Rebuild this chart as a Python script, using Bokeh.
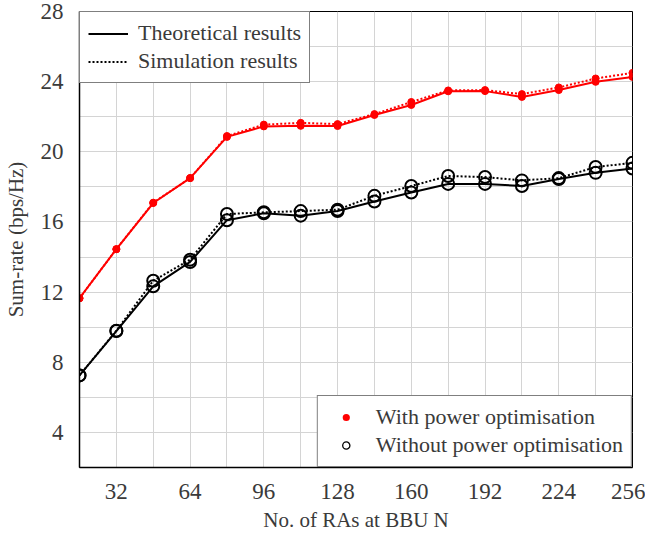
from bokeh.plotting import figure
from bokeh.models import FixedTicker, Legend, LegendItem, ColumnDataSource
from bokeh.embed import file_html
from bokeh.resources import INLINE

N = [16, 32, 48, 64, 80, 96, 112, 128, 144, 160, 176, 192, 208, 224, 240, 256]
with_opt_theory = [11.65, 14.45, 17.08, 18.5, 20.85, 21.45, 21.48, 21.47, 22.1, 22.67, 23.45, 23.46, 23.13, 23.52, 23.99, 24.27]
with_opt_sim = [11.65, 14.45, 17.1, 18.5, 20.9, 21.55, 21.65, 21.58, 22.15, 22.84, 23.5, 23.52, 23.29, 23.67, 24.18, 24.5]
without_opt_theory = [7.25, 9.78, 12.33, 13.72, 16.1, 16.5, 16.36, 16.62, 17.17, 17.68, 18.17, 18.17, 18.05, 18.45, 18.8, 19.05]
without_opt_sim = [7.25, 9.8, 12.65, 13.85, 16.45, 16.55, 16.62, 16.7, 17.49, 18.05, 18.62, 18.56, 18.37, 18.5, 19.13, 19.37]

x_ticks = [32, 64, 96, 128, 160, 192, 224, 256]
x_minor = [16, 48, 80, 112, 144, 176, 208, 240]
y_ticks = [4, 8, 12, 16, 20, 24, 28]
y_minor = [2, 6, 10, 14, 18, 22, 26]

FONT = "'Liberation Serif', 'DejaVu Serif', serif"
TXT = "#3a3a3a"
DOT = "2 2"

p = figure(width=645, height=534, output_backend="svg", toolbar_location=None,
           x_range=(16, 256), y_range=(2, 28),
           min_border_left=76, min_border_right=13, min_border_top=11, min_border_bottom=66)
p.background_fill_color = "white"
p.outline_line_color = "black"
p.outline_line_width = 1

for ax, ticks, minor in ((p.xaxis[0], x_ticks, x_minor), (p.yaxis[0], y_ticks, y_minor)):
    ax.ticker = FixedTicker(ticks=ticks, minor_ticks=minor)
    ax.major_tick_line_color = None
    ax.minor_tick_line_color = None
    ax.axis_line_color = "black"
    ax.axis_line_width = 1.5
    ax.major_label_text_font = FONT
    ax.major_label_text_font_size = "23px"
    ax.major_label_text_color = TXT
    ax.major_label_standoff = 10
    ax.axis_label_text_font = FONT
    ax.axis_label_text_font_size = "21px"
    ax.axis_label_text_font_style = "normal"
    ax.axis_label_text_color = TXT

p.xaxis.axis_label = "No. of RAs at BBU N"
p.yaxis.axis_label = "Sum-rate (bps/Hz)"
p.xaxis.axis_label_standoff = 6
p.yaxis.axis_label_standoff = 10

p.xgrid.ticker = FixedTicker(ticks=x_ticks, minor_ticks=x_minor)
p.ygrid.ticker = FixedTicker(ticks=y_ticks, minor_ticks=y_minor)
for g in (p.xgrid[0], p.ygrid[0]):
    g.grid_line_color = "#d4d4d4"
    g.grid_line_width = 1
    g.minor_grid_line_color = "#d4d4d4"
    g.minor_grid_line_width = 1

src = ColumnDataSource(dict(N=N, wt=with_opt_theory, ws=with_opt_sim,
                            ot=without_opt_theory, os=without_opt_sim))

# without power optimisation (black)
p.line("N", "os", source=src, color="black", line_width=2, line_dash=DOT)
p.line("N", "ot", source=src, color="black", line_width=2)
p.scatter("N", "os", source=src, marker="circle", size=12, fill_color=None, line_color="black", line_width=2)
p.scatter("N", "ot", source=src, marker="circle", size=12, fill_color=None, line_color="black", line_width=2)

# with power optimisation (red)
p.line("N", "ws", source=src, color="red", line_width=2, line_dash=DOT)
p.line("N", "wt", source=src, color="red", line_width=2)
p.scatter("N", "ws", source=src, marker="circle", size=7, fill_color="red", line_color="red")
p.scatter("N", "wt", source=src, marker="circle", size=7, fill_color="red", line_color="red")

# legend proxies (not drawn in the plot: NaN data)
nan = float("nan")
proxy = ColumnDataSource(dict(x=[nan], y=[nan]))
l_th = p.line("x", "y", source=proxy, color="black", line_width=2)
l_sim = p.line("x", "y", source=proxy, color="black", line_width=2, line_dash=DOT)
m_with = p.scatter("x", "y", source=proxy, marker="circle", fill_color="red", line_color=None)
m_without = p.scatter("x", "y", source=proxy, marker="circle", fill_color=None, line_color="black", line_width=1.3)

def style(leg, gh):
    leg.margin = 0
    leg.padding = 8
    leg.spacing = 2
    leg.glyph_width = 40
    leg.glyph_height = gh
    leg.label_height = 23
    leg.label_standoff = 10
    leg.label_text_font = FONT
    leg.label_text_font_size = "22px"
    leg.label_text_color = TXT
    leg.border_line_color = "black"
    leg.border_line_width = 1
    leg.background_fill_alpha = 1
    leg.background_fill_color = "white"

leg1 = Legend(items=[LegendItem(label="Theoretical results", renderers=[l_th]),
                     LegendItem(label="Simulation results", renderers=[l_sim])],
              location="top_left")
leg2 = Legend(items=[LegendItem(label="With power optimisation", renderers=[m_with]),
                     LegendItem(label="Without power optimisation", renderers=[m_without])],
              location="bottom_right")
style(leg1, 23)
style(leg2, 18)
p.add_layout(leg1)
p.add_layout(leg2)

open("out.html", "w").write(file_html(p, INLINE))
